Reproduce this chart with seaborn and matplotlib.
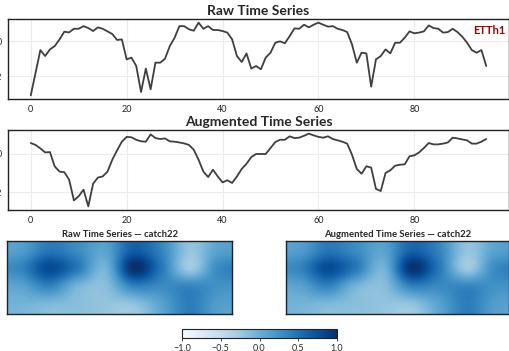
import numpy as np
import pandas as pd
import matplotlib
matplotlib.use("Agg")
import matplotlib.pyplot as plt
import seaborn as sns

raw_series = [-3.09, -1.8, -0.5, -0.84, -0.46, -0.27, 0.11, 0.55, 0.51, 0.72,
              0.72, 0.87, 0.76, 0.59, 0.8, 0.72, 0.57, 0.42, 0.08, 0.11,
              -1.03, -0.93, -1.41, -2.9, -1.56, -2.74, -1.22, -1.22, -0.99, -0.27,
              0.21, 0.87, 0.87, 0.69, 0.61, 1.07, 0.72, 0.87, 0.65, 0.65,
              0.59, 0.5, 0.11, -0.84, -1.18, -0.69, -1.56, -1.41, -1.6, -0.93,
              -0.65, -0.08, 0.0, -0.11, 0.3, 0.74, 0.72, 0.95, 0.8, 0.95,
              1.07, 0.95, 0.84, 0.87, 0.72, 0.65, 0.53, -0.17, -1.22, -0.65,
              -0.69, -2.59, -1.03, -0.84, -0.46, -0.69, -0.08, -0.08, 0.21, 0.57,
              0.46, 0.5, 0.57, 0.91, 0.76, 0.72, 0.5, 0.53, 0.72, 0.53,
              0.27, -0.08, -0.5, -0.65, -0.5, -1.41]

aug_series = [0.57, 0.47, 0.29, 0.08, 0.1, -0.65, -0.92, -0.95, -1.34, -2.42,
              -2.2, -1.86, -2.73, -1.55, -1.23, -1.17, -0.92, -0.3, 0.19, 0.64,
              0.89, 0.87, 0.74, 0.66, 0.64, 1.02, 0.83, 0.78, 0.81, 0.66,
              0.64, 0.6, 0.55, 0.47, 0.22, -0.3, -0.92, -1.2, -0.82, -1.17,
              -1.48, -1.37, -1.51, -1.17, -0.78, -0.51, -0.16, 0.0, 0.0, 0.0,
              0.31, 0.62, 0.74, 0.74, 0.92, 0.83, 0.85, 0.95, 1.06, 0.97,
              0.89, 0.85, 0.92, 0.78, 0.71, 0.64, 0.54, -0.04, -0.78, -1.03,
              -0.64, -0.71, -1.82, -1.93, -0.99, -0.85, -0.61, -0.56, -0.54, -0.12,
              -0.07, 0.08, 0.31, 0.57, 0.5, 0.5, 0.54, 0.6, 0.85, 0.81,
              0.76, 0.71, 0.54, 0.54, 0.64, 0.78]

raw_feat = [[0.15, 0.45, 0.3, 0.1, 0.65, 0.35, -0.2, 0.1],
            [0.35, 0.8, 0.45, -0.05, 1.0, 0.45, -0.25, 0.3],
            [0.1, 0.35, -0.05, -0.15, 0.35, 0.3, 0.35, 0.25],
            [-0.05, -0.1, -0.15, -0.2, -0.2, 0.1, 0.4, 0.15]]
aug_feat = [[0.15, 0.45, 0.3, 0.1, 0.6, 0.35, -0.2, 0.1],
            [0.35, 0.78, 0.45, -0.05, 0.97, 0.45, -0.25, 0.3],
            [0.1, 0.35, -0.05, -0.15, 0.35, 0.3, 0.35, 0.25],
            [-0.05, -0.1, -0.15, -0.2, -0.2, 0.1, 0.4, 0.15]]

cbar_ticks = [-1.0, -0.5, 0.0, 0.5, 1.0]

sns.set_style("whitegrid", {"grid.color": "#ececec", "axes.edgecolor": "#222222"})
plt.rcParams['font.family'] = ['Lato', 'DejaVu Sans']

W, H = 509, 351
fig = plt.figure(figsize=(W / 100, H / 100), dpi=100)

def px_axes(x0, y0, x1, y1):
    return fig.add_axes([x0 / W, 1 - y1 / H, (x1 - x0) / W, (y1 - y0) / H])

def line_panel(ax, series, title):
    df = pd.DataFrame({"t": np.arange(len(series)), "v": series})
    sns.lineplot(data=df, x="t", y="v", ax=ax, color="#3f3f3f", linewidth=1.3)
    ax.set_xlabel("")
    ax.set_ylabel("")
    ax.set_xticks([0, 20, 40, 60, 80])
    ax.set_yticks([0, -2])
    ax.tick_params(labelsize=6.5, length=2.5, width=0.6, pad=2, colors="#222222")
    ax.set_title(title, fontsize=10, fontweight="bold", pad=3)
    for s in ax.spines.values():
        s.set_linewidth(1.0)
        s.set_color("#222222")

ax1 = px_axes(8, 19, 509, 99)
line_panel(ax1, raw_series, "Raw Time Series")
ax1.text(0.993, 0.86, "ETTh1", transform=ax1.transAxes, ha="right", va="center",
         color="#a00000", fontsize=8, fontweight="bold")

ax2 = px_axes(8, 130, 509, 210)
line_panel(ax2, aug_series, "Augmented Time Series")

def heat_panel(ax, feat, title):
    im = ax.imshow(np.array(feat), cmap="Blues", vmin=-1, vmax=1,
                   interpolation="catrom", interpolation_stage="data",
                   aspect="auto")
    ax.set_xticks([])
    ax.set_yticks([])
    ax.grid(False)
    ax.set_title(title, fontsize=6.8, fontweight="bold", pad=3)
    for s in ax.spines.values():
        s.set_linewidth(1.0)
        s.set_color("#222222")
    return im

axh1 = px_axes(7, 241, 232, 314)
im = heat_panel(axh1, raw_feat, "Raw Time Series — catch22")
axh2 = px_axes(286, 241, 509, 314)
heat_panel(axh2, aug_feat, "Augmented Time Series — catch22")

cax = px_axes(182, 329, 337, 338)
cb = fig.colorbar(im, cax=cax, orientation="horizontal", ticks=cbar_ticks)
cb.ax.tick_params(labelsize=6.5, length=2.5, width=0.6, pad=1.5)
cb.outline.set_linewidth(0.8)
cb.outline.set_edgecolor("#222222")

fig.savefig("out.png", dpi=100)
